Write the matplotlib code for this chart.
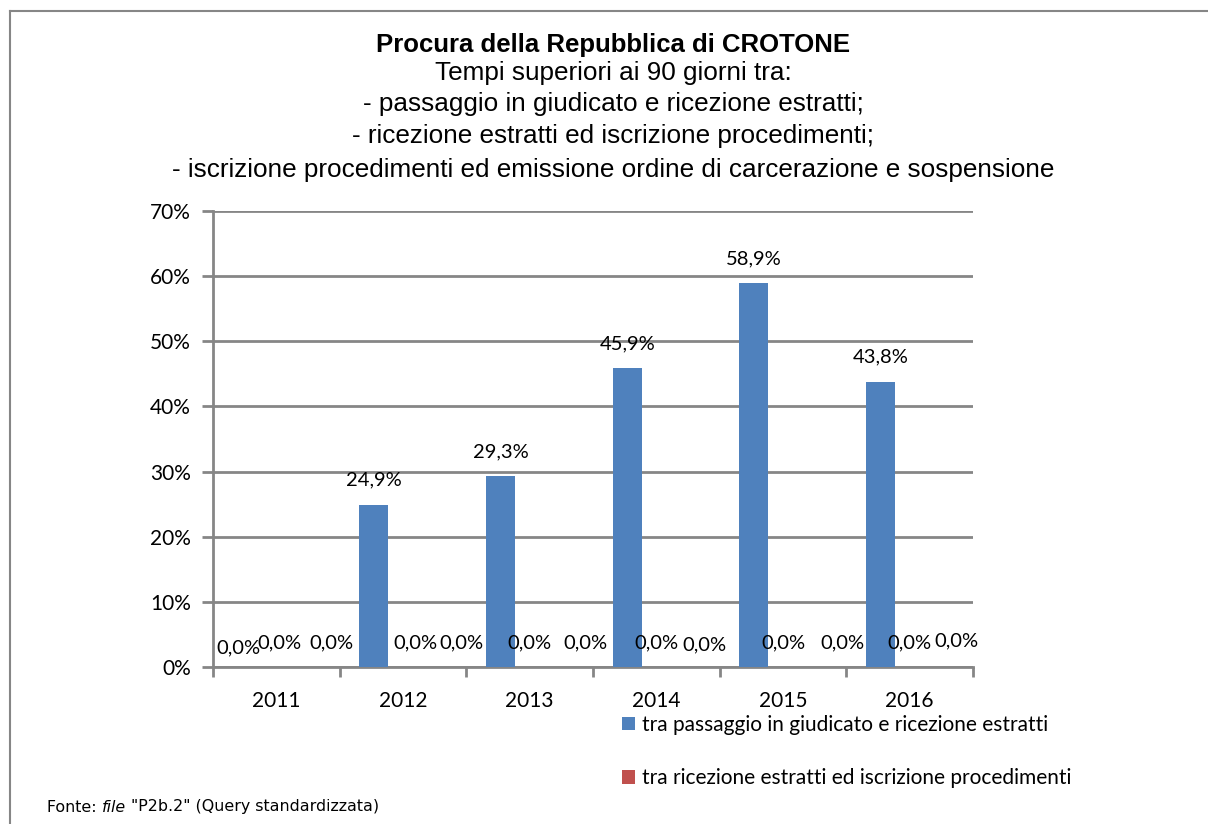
import matplotlib
matplotlib.use("Agg")
import matplotlib.pyplot as plt
from matplotlib.lines import Line2D
import numpy as np

years = ["2011", "2012", "2013", "2014", "2015", "2016"]
series_names = [
    "tra passaggio in giudicato e ricezione estratti",
    "tra ricezione estratti ed iscrizione procedimenti",
    "tra iscrizione procedimenti ed emissione ordine di carcerazione e sospensione",
]
giudicato_estratti = [0.0, 24.9, 29.3, 45.9, 58.9, 43.8]
estratti_iscrizione = [0.0, 0.0, 0.0, 0.0, 0.0, 0.0]
iscrizione_ordine = [0.0, 0.0, 0.0, 0.0, 0.0, 0.0]

title_lines = [
    "Tempi superiori ai 90 giorni tra:",
    "- passaggio in giudicato e ricezione estratti;",
    "- ricezione estratti ed iscrizione procedimenti;",
    "- iscrizione procedimenti ed emissione ordine di carcerazione e sospensione",
]

colors = ["#4F81BD", "#C0504D", "#9BBB59"]
# label nudges (pixels) that mimic how the spreadsheet spread the 0,0% labels
label_dx = [
    [-9, 0, 0, 0, 0, 0],
    [3, 12, 0, 0, 0, 0],
    [26, 29, 27, 19, 30, 18],
]
label_dy = [
    [-5, 0, 0, 0, 0, 0],
    [0, 0, 0, 0, 0, 0],
    [0, 0, 0, -2, 0, 2],
]

LBL = "Lato"
fig = plt.figure(figsize=(12.08, 8.24), dpi=100)
ax = fig.add_axes([213 / 1208, 157 / 824, 760 / 1208, 456 / 824])

x = np.arange(len(years))
w = 0.229
all_series = [giudicato_estratti, estratti_iscrizione, iscrizione_ordine]
bars = []
for i, (vals, col) in enumerate(zip(all_series, colors)):
    b = ax.bar(x + (i - 1) * w, vals, width=w, color=col, zorder=3)
    bars.append(b)
    for j, v in enumerate(vals):
        ax.annotate(
            f"{v:.1f}%".replace(".", ","),
            xy=(x[j] + (i - 1) * w, v),
            xytext=(label_dx[i][j] * 0.72, (16 + label_dy[i][j]) * 0.72),
            textcoords="offset points",
            ha="center", va="bottom",
            fontsize=14.5, family=LBL, color="black",
        )

ax.set_xlim(-0.5, len(years) - 0.5)
ax.set_ylim(0, 70)
ax.set_yticks(range(0, 71, 10))
ax.set_yticklabels([f"{t}%" for t in range(0, 71, 10)], family=LBL, fontsize=15)
ax.set_xticks(x)
ax.set_xticklabels(years, family=LBL, fontsize=15)
ax.set_xticks(np.arange(-0.5, len(years), 1), minor=True)
ax.tick_params(axis="x", which="major", length=0, pad=17)
ax.tick_params(axis="x", which="minor", length=7, color="#868686", width=2)
ax.tick_params(axis="y", length=8, color="#868686", width=2, pad=8)
ax.grid(axis="y", color="#868686", linewidth=2, zorder=0)
for s in ["top", "right"]:
    ax.spines[s].set_visible(False)
for s in ["left", "bottom"]:
    ax.spines[s].set_color("#868686")
    ax.spines[s].set_linewidth(2)

fig.text(0.5075, 1 - 45 / 824, "Procura della Repubblica di CROTONE",
         ha="center", va="center", fontsize=18.5, fontweight="bold",
         family="Liberation Sans")
for line, yy in zip(title_lines, [73, 104, 136, 170]):
    fig.text(0.5075, 1 - yy / 824, line, ha="center", va="center",
             fontsize=18.8, family="Liberation Sans")

leg = fig.legend(
    [bars[0][0], bars[1][0]], series_names[:2],
    loc="upper left", bbox_to_anchor=(622 / 1208, 1 - 715 / 824),
    frameon=False, prop={"family": LBL, "size": 15},
    handlelength=0.6, handleheight=0.6, handletextpad=0.35,
    labelspacing=1.6, borderaxespad=0, borderpad=0,
)

# source line in three pieces (middle one italic)
fig.canvas.draw()
r = fig.canvas.get_renderer()
x0 = 47
parts = [("Fonte: ", "normal"), ("file", "italic"), (' "P2b.2" (Query standardizzata)', "normal")]
for txt, st in parts:
    tt = fig.text(x0 / 1208, 1 - 807 / 824, txt, fontsize=11.4, family="DejaVu Sans",
                  style=st, va="center")
    bb = tt.get_window_extent(renderer=r)
    x0 += bb.width

# chart frame (left and top edges visible)
fig.add_artist(Line2D([9.5 / 1208, 9.5 / 1208], [0, 1 - 11 / 824], color="#868686", lw=1.5))
fig.add_artist(Line2D([9.5 / 1208, 1], [1 - 11 / 824, 1 - 11 / 824], color="#868686", lw=1.5))

fig.savefig("out.png", dpi=100)
